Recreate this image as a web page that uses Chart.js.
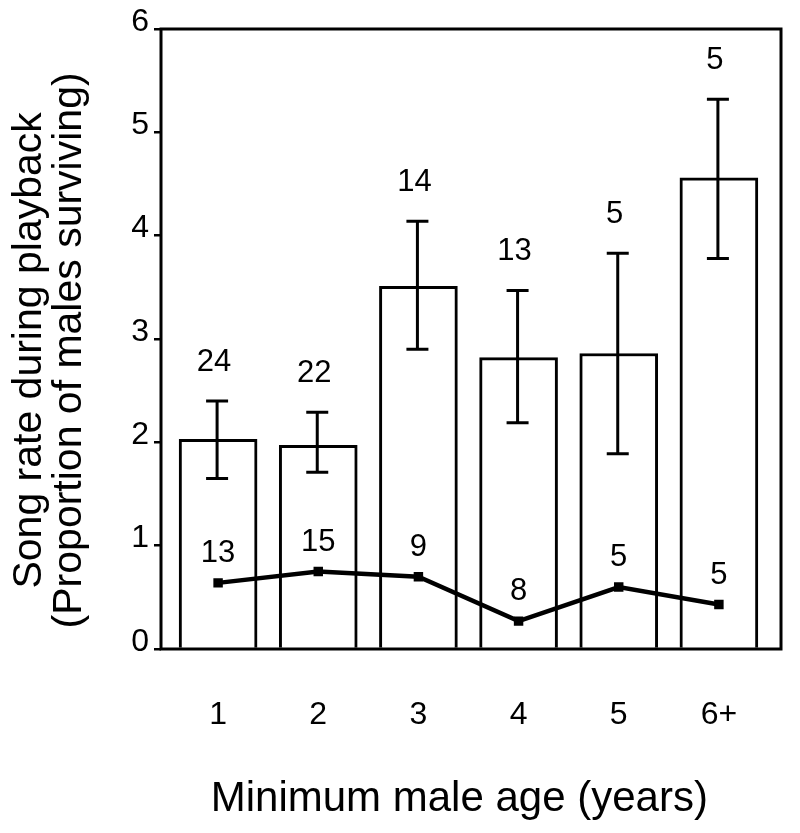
<!DOCTYPE html>
<html>
<head>
<meta charset="utf-8">
<script src="https://cdn.jsdelivr.net/npm/chart.js@4.4.1/dist/chart.umd.min.js"></script>
<style>
  html, body { margin: 0; background: #fff; }
</style>
</head>
<body>
<canvas id="chart" width="800" height="833"></canvas>
<script>
const ageLabels = ['1', '2', '3', '4', '5', '6+'];
const songRate = [2.03, 1.97, 3.51, 2.82, 2.86, 4.56];
const songRateLow = [1.65, 1.71, 2.90, 2.19, 1.89, 3.78];
const songRateHigh = [2.40, 2.29, 4.14, 3.47, 3.83, 5.32];
const songRateN = [24, 22, 14, 13, 5, 5];
const survival = [0.64, 0.75, 0.70, 0.27, 0.60, 0.43];
const survivalN = [13, 15, 9, 8, 5, 5];
const yTicks = [0, 1, 2, 3, 4, 5, 6];

const FONT = '"Liberation Sans", Arial, Helvetica, sans-serif';

// error bars, sample sizes and the box round the plot
const annotations = {
  id: 'annotations',
  afterDatasetsDraw(chart) {
    const { ctx, chartArea, scales: { x, y } } = chart;
    ctx.save();
    ctx.strokeStyle = '#000';
    ctx.lineWidth = 3;
    songRate.forEach((v, i) => {
      const px = x.getPixelForValue(i + 1) - 1;
      const lo = y.getPixelForValue(songRateLow[i]);
      const hi = y.getPixelForValue(songRateHigh[i]);
      ctx.beginPath();
      ctx.moveTo(px, lo); ctx.lineTo(px, hi);
      ctx.moveTo(px - 11, lo); ctx.lineTo(px + 11, lo);
      ctx.moveTo(px - 11, hi); ctx.lineTo(px + 11, hi);
      ctx.stroke();
    });
    ctx.strokeRect(chartArea.left, chartArea.top, chartArea.width, chartArea.height);

    ctx.fillStyle = '#000';
    ctx.font = '31px ' + FONT;
    ctx.textAlign = 'center';
    ctx.textBaseline = 'alphabetic';
    songRateN.forEach((n, i) => {
      const px = x.getPixelForValue(i + 1) - 4;
      ctx.fillText(String(n), px, y.getPixelForValue(songRateHigh[i]) - 30);
    });
    survivalN.forEach((n, i) => {
      ctx.fillText(String(n), x.getPixelForValue(i + 1), y.getPixelForValue(survival[i]) - 21);
    });
    ctx.restore();
  }
};

new Chart(document.getElementById('chart'), {
  data: {
    datasets: [
      {
        type: 'line',
        order: 0,
        data: survival.map((v, i) => ({ x: i + 1, y: v })),
        borderColor: '#000',
        borderWidth: 4.5,
        pointStyle: 'rect',
        pointRadius: 3.5,
        pointBackgroundColor: '#000',
        pointBorderColor: '#000',
        tension: 0
      },
      {
        type: 'bar',
        order: 1,
        data: songRate.map((v, i) => ({ x: i + 1, y: v })),
        backgroundColor: '#fff',
        borderColor: '#000',
        borderWidth: 3,
        barThickness: 78
      }
    ]
  },
  options: {
    responsive: false,
    animation: false,
    layout: { padding: { top: 29, right: 19, left: 0, bottom: 0 } },
    plugins: {
      legend: { display: false },
      tooltip: { enabled: false }
    },
    scales: {
      x: {
        type: 'linear',
        offset: false,
        min: 0.43,
        max: 6.62,
        afterBuildTicks: s => { s.ticks = ageLabels.map((_, i) => ({ value: i + 1 })); },
        afterFit: s => { s.height = 184; },
        grid: { display: false, drawTicks: false },
        border: { display: false },
        ticks: {
          autoSkip: false,
          maxRotation: 0,
          color: '#000',
          padding: 47,
          font: { family: FONT, size: 32 },
          callback: (v, i) => ageLabels[i]
        },
        title: {
          display: true,
          text: 'Minimum male age (years)  ',
          color: '#000',
          font: { family: FONT, size: 42 },
          padding: { top: 0, bottom: 8 }
        }
      },
      y: {
        min: 0,
        max: 6,
        afterBuildTicks: s => { s.ticks = yTicks.map(v => ({ value: v })); },
        afterFit: s => { s.width = 161; },
        grid: {
          drawOnChartArea: false,
          drawTicks: true,
          tickLength: 7,
          color: '#000',
          lineWidth: 2.5
        },
        border: { display: false },
        ticks: {
          color: '#000',
          padding: 5,
          labelOffset: -7,
          font: { family: FONT, size: 32 }
        },
        title: {
          display: true,
          text: ['Song rate during playback  ', '(Proportion of males surviving)  '],
          color: '#000',
          font: { family: FONT, size: 41, lineHeight: '40px' },
          padding: { top: 10, bottom: 0 }
        }
      }
    }
  },
  plugins: [annotations]
});
</script>
</body>
</html>
